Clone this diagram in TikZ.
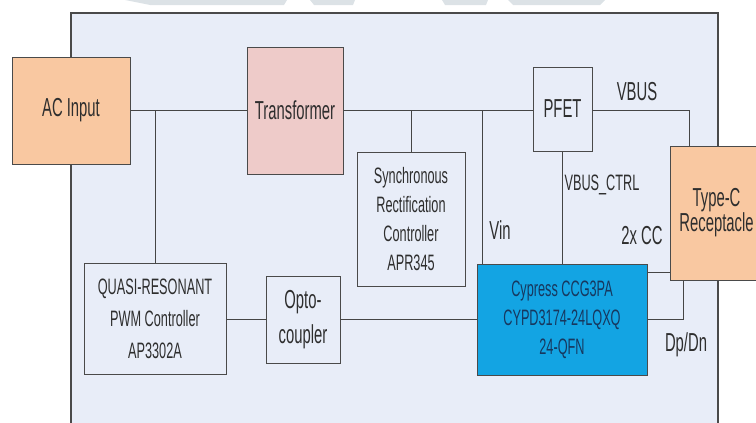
\documentclass[tikz,border=0pt]{standalone}
\usepackage{fontspec}
\setmainfont{Liberation Sans}[FakeStretch=0.57]
\usetikzlibrary{shadows}
\definecolor{panelc}{HTML}{E8EDF8}
\definecolor{edgec}{HTML}{4A4A4A}
\definecolor{wirec}{HTML}{454545}
\definecolor{textc}{HTML}{2E2E2E}
\definecolor{peachc}{HTML}{F9C8A1}
\definecolor{pinkc}{HTML}{EECBC9}
\definecolor{ccgc}{HTML}{13A4E3}
\definecolor{ccgtextc}{HTML}{17385F}
\definecolor{wmc}{HTML}{DCE2E6}

\begin{document}
\begin{tikzpicture}[x=1pt,y=-1pt,
    box/.style={draw=edgec,line width=1pt,fill=panelc,inner sep=0pt,align=center,text=textc,
      drop shadow={shadow xshift=0.5pt,shadow yshift=-1.2pt,opacity=0.3}},
    wire/.style={draw=wirec,line width=0.9pt},
    lbl/.style={text=textc,inner sep=0pt},
    bigtxt/.style={font=\fontsize{26}{27}\selectfont},
    smalltxt/.style={font=\fontsize{22.3}{29}\selectfont}]
  \useasboundingbox (0,0) rectangle (756,423);
  \fill[wmc] (125,0) -- (287,0) -- (284,5) -- (150,5) -- cycle;
  \fill[wmc] (310,0) -- (355,0) -- (353,5) -- (314,5) -- cycle;
  \fill[wmc] (442,0) -- (488,0) -- (486,5) -- (445,5) -- cycle;
  \fill[wmc] (508,0) -- (605,0) -- (600,5) -- (513,5) -- cycle;
  \fill[panelc] (71,13) rectangle (718,430);
  \draw[edgec,line width=1.2pt] (71,430) -- (71,13) -- (718,13) -- (718,430);

  \node[box,bigtxt,fill=peachc,minimum width=118,minimum height=107] (acin) at (71,110.5) {AC Input};
  \node[box,bigtxt,fill=pinkc,minimum width=96,minimum height=127] (trans) at (295,110.5) {Transformer};
  \node[box,bigtxt,minimum width=59,minimum height=84] (pfet) at (562.5,109) {PFET};
  \node[box,bigtxt,font=\fontsize{26}{25}\selectfont,fill=peachc,minimum width=93,minimum height=134] (typec) at (716.5,213) {Type-C\\Receptacle};
  \node[box,smalltxt,minimum width=108,minimum height=134] (sync) at (411,219) {Synchronous\\Rectification\\Controller\\APR345};
  \node[box,smalltxt,fill=ccgc,text=ccgtextc,minimum width=170,minimum height=111] (ccg) at (562,319.5) {Cypress CCG3PA\\CYPD3174-24LQXQ\\24-QFN};
  \node[box,smalltxt,font=\fontsize{22.3}{32}\selectfont,minimum width=142,minimum height=111] (qr) at (155,318.5) {QUASI-RESONANT\\PWM Controller\\AP3302A};
  \node[box,bigtxt,font=\fontsize{26}{35}\selectfont,minimum width=74,minimum height=87] (opto) at (303,319.5) {Opto-\\coupler};

  \coordinate (vb) at (689,110);
  \coordinate (vin) at (482,110);
  \coordinate (dp) at (683,319);
  \draw[wire] (acin.east) -- (trans.west);
  \draw[wire] (trans.east) -- (trans.east -| pfet.west);
  \draw[wire] (pfet.east |- vb) -- (vb) -- (vb |- typec.north);
  \draw[wire] (qr.north |- acin.east) -- (qr.north);
  \draw[wire] (sync.north |- trans.east) -- (sync.north);
  \draw[wire] (vin) -- (vin |- ccg.north);
  \draw[wire] (pfet.south) -- (pfet.south |- ccg.north);
  \draw[wire] ([yshift=-9pt]ccg.north east) -- ([yshift=-9pt]ccg.north east -| typec.west);
  \draw[wire] (ccg.east |- dp) -- (dp) -- (dp |- typec.south);
  \draw[wire] (qr.east |- dp) -- (opto.west |- dp);
  \draw[wire] (opto.east |- dp) -- (ccg.west |- dp);

  \node[lbl,bigtxt] (vbus) at (637,92) {VBUS};
  \node[lbl,smalltxt] (vbusctrl) at (602,185) {VBUS\_CTRL};
  \node[lbl,bigtxt] (vinlbl) at (500,230) {Vin};
  \node[lbl,bigtxt] (cc) at (642,236) {2x CC};
  \node[lbl,bigtxt] (dpdn) at (686,345) {Dp/Dn};
\end{tikzpicture}
\end{document}
